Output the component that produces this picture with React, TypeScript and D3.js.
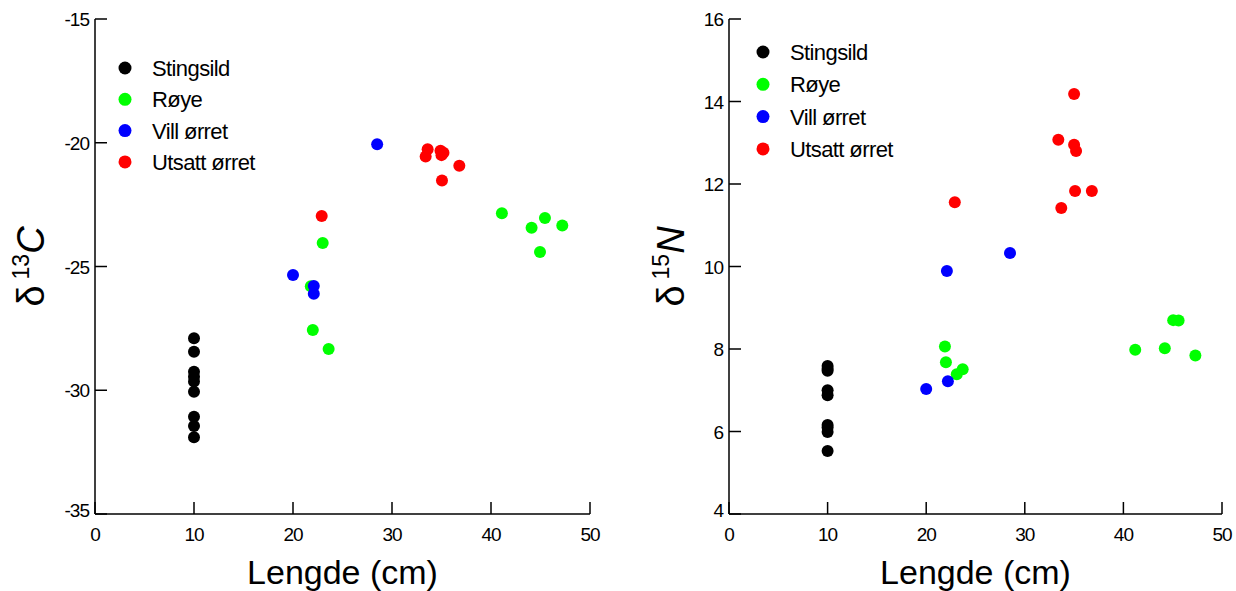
import React from "react";
import * as d3 from "d3";

const species = ["Stingsild", "Røye", "Vill ørret", "Utsatt ørret"];
const colors = ["#000000", "#00ff00", "#0000ff", "#ff0000"];

// Panel A: δ13C vs length
const stingsildC_len = [10, 10, 10, 10, 10, 10, 10, 10, 10];
const stingsildC_val = [-27.9, -28.44, -29.25, -29.45, -29.65, -30.06, -31.07, -31.44, -31.9];
const royeC_len = [22.0, 23.6, 23.0, 21.8, 41.1, 45.45, 44.1, 47.2, 44.95];
const royeC_val = [-27.57, -28.33, -24.05, -25.8, -22.85, -23.04, -23.43, -23.34, -24.41];
const villC_len = [20.0, 22.1, 22.1, 28.5];
const villC_val = [-25.34, -25.79, -26.1, -20.06];
const utsattC_len = [33.6, 33.4, 34.9, 35.2, 35.0, 36.8, 35.05, 22.9];
const utsattC_val = [-20.26, -20.56, -20.32, -20.4, -20.5, -20.93, -21.53, -22.96];

// Panel B: δ15N vs length
const stingsildN_len = [10, 10, 10, 10, 10, 10, 10, 10, 10];
const stingsildN_val = [7.59, 7.52, 7.47, 7.0, 6.88, 6.16, 6.1, 5.99, 5.53];
const royeN_len = [21.9, 22.0, 23.1, 23.7, 41.2, 44.2, 45.05, 45.6, 47.3];
const royeN_val = [8.06, 7.68, 7.39, 7.51, 7.98, 8.02, 8.7, 8.69, 7.84];
const villN_len = [20.0, 22.2, 22.1, 28.5];
const villN_val = [7.03, 7.22, 9.89, 10.33];
const utsattN_len = [33.4, 35.0, 35.0, 35.2, 33.7, 35.1, 36.8, 22.9];
const utsattN_val = [13.07, 14.18, 12.95, 12.8, 11.42, 11.83, 11.83, 11.56];

const xTicks = [0, 10, 20, 30, 40, 50];
const yTicksC = [-35, -30, -25, -20, -15];
const yTicksN = [4, 6, 8, 10, 12, 14, 16];

const font = "Liberation Sans, Arial, sans-serif";

type Series = { len: number[]; val: number[] };

function Panel(props: {
  x0: number;
  x1: number;
  y0: number;
  y1: number;
  yDomain: [number, number];
  yTicks: number[];
  series: Series[];
  iso: string;
  elem: string;
  legendX: number;
  legendY: number;
  legendStep: number;
  yTitleX: number;
}) {
  const { x0, x1, y0, y1, yDomain, yTicks, series } = props;
  const x = d3.scaleLinear().domain([0, 50]).range([x0, x1]);
  const y = d3.scaleLinear().domain(yDomain).range([y1, y0]);
  const tick = 12;
  const cy = (y0 + y1) / 2;
  return (
    <g>
      <line x1={x0} x2={x0} y1={y0} y2={y1} stroke="#000" strokeWidth={1.5} />
      <line x1={x0} x2={x1} y1={y1} y2={y1} stroke="#000" strokeWidth={1.5} />
      {yTicks.map((t, i) => (
        <g key={"y" + t}>
          <line x1={x0} x2={x0 + tick} y1={y(t)} y2={y(t)} stroke="#000" strokeWidth={1.5} />
          <text
            x={x0 - 6}
            y={y(t) + 7 - (i === 0 ? 4 : 0)}
            textAnchor="end"
            fontSize={19}
            fontFamily={font}
            letterSpacing={-1}
          >
            {t}
          </text>
        </g>
      ))}
      {xTicks.map((t) => (
        <g key={"x" + t}>
          <line x1={x(t)} x2={x(t)} y1={y1} y2={y1 - tick} stroke="#000" strokeWidth={1.5} />
          <text
            x={x(t)}
            y={y1 + 27}
            textAnchor="middle"
            fontSize={19}
            fontFamily={font}
            letterSpacing={-1}
          >
            {t}
          </text>
        </g>
      ))}
      <text
        x={(x0 + x1) / 2}
        y={584}
        textAnchor="middle"
        fontSize={34}
        fontFamily={font}
      >
        Lengde (cm)
      </text>
      <text
        transform={`translate(${props.yTitleX},${cy}) rotate(-90)`}
        textAnchor="middle"
        fontSize={38}
        fontFamily={font}
      >
        <tspan>δ</tspan>
        <tspan fontSize={23} dy={-15} dx={6}>{props.iso}</tspan>
        <tspan fontStyle="italic" dy={15}>{props.elem}</tspan>
      </text>
      {series.map((s, si) =>
        s.len.map((l, i) => (
          <circle key={si + "-" + i} cx={x(l)} cy={y(s.val[i])} r={6} fill={colors[si]} />
        ))
      )}
      {species.map((name, i) => (
        <g key={name}>
          <circle
            cx={props.legendX}
            cy={props.legendY + i * props.legendStep}
            r={6.5}
            fill={colors[i]}
          />
          <text
            x={props.legendX + 27}
            y={props.legendY + i * props.legendStep + 8}
            fontSize={22}
            fontFamily={font}
            letterSpacing={-0.6}
          >
            {name}
          </text>
        </g>
      ))}
    </g>
  );
}

export default function App() {
  const seriesC: Series[] = [
    { len: stingsildC_len, val: stingsildC_val },
    { len: royeC_len, val: royeC_val },
    { len: villC_len, val: villC_val },
    { len: utsattC_len, val: utsattC_val },
  ];
  const seriesN: Series[] = [
    { len: stingsildN_len, val: stingsildN_val },
    { len: royeN_len, val: royeN_val },
    { len: villN_len, val: villN_val },
    { len: utsattN_len, val: utsattN_val },
  ];
  return (
    <svg
      width={1236}
      height={591}
      style={{ position: "absolute", left: 0, top: 0, background: "#fff" }}
    >
      <rect width={1236} height={591} fill="#fff" />
      <Panel
        x0={95}
        x1={590}
        y0={19}
        y1={514}
        yDomain={[-35, -15]}
        yTicks={yTicksC}
        series={seriesC}
        iso="13"
        elem="C"
        legendX={125}
        legendY={68}
        legendStep={31.3}
        yTitleX={44}
      />
      <Panel
        x0={729}
        x1={1222}
        y0={19}
        y1={514}
        yDomain={[4, 16]}
        yTicks={yTicksN}
        series={seriesN}
        iso="15"
        elem="N"
        legendX={763}
        legendY={52}
        legendStep={32.3}
        yTitleX={684}
      />
    </svg>
  );
}
